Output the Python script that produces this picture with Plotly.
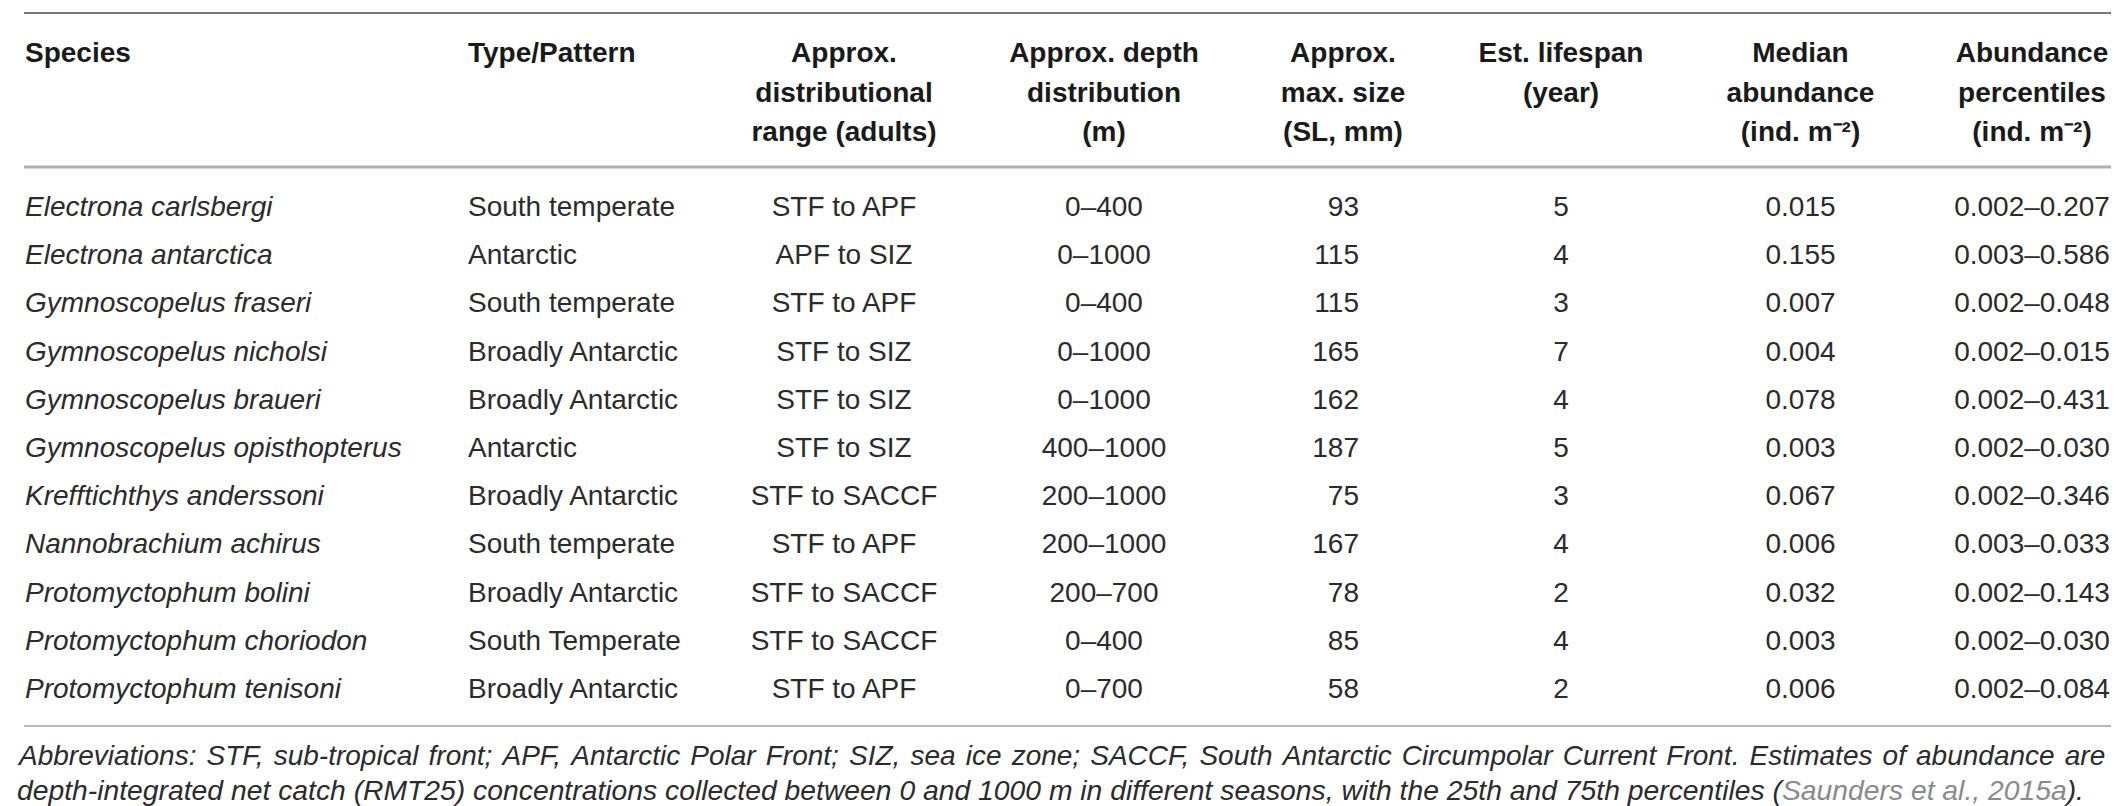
import plotly.graph_objects as go

W, H = 2119, 806

# table content
species = ["Electrona carlsbergi", "Electrona antarctica", "Gymnoscopelus fraseri",
           "Gymnoscopelus nicholsi", "Gymnoscopelus braueri", "Gymnoscopelus opisthopterus",
           "Krefftichthys anderssoni", "Nannobrachium achirus", "Protomyctophum bolini",
           "Protomyctophum choriodon", "Protomyctophum tenisoni"]
pattern = ["South temperate", "Antarctic", "South temperate", "Broadly Antarctic",
           "Broadly Antarctic", "Antarctic", "Broadly Antarctic", "South temperate",
           "Broadly Antarctic", "South Temperate", "Broadly Antarctic"]
dist_range = ["STF to APF", "APF to SIZ", "STF to APF", "STF to SIZ", "STF to SIZ",
              "STF to SIZ", "STF to SACCF", "STF to APF", "STF to SACCF", "STF to SACCF",
              "STF to APF"]
depth = ["0–400", "0–1000", "0–400", "0–1000", "0–1000", "400–1000", "200–1000",
         "200–1000", "200–700", "0–400", "0–700"]
max_size = [93, 115, 115, 165, 162, 187, 75, 167, 78, 85, 58]
lifespan = [5, 4, 3, 7, 4, 5, 3, 4, 2, 4, 2]
median_abund = ["0.015", "0.155", "0.007", "0.004", "0.078", "0.003", "0.067", "0.006",
                "0.032", "0.003", "0.006"]
pct_abund = ["0.002–0.207", "0.003–0.586", "0.002–0.048", "0.002–0.015", "0.002–0.431",
             "0.002–0.030", "0.002–0.346", "0.003–0.033", "0.002–0.143", "0.002–0.030",
             "0.002–0.084"]

# column headings, one entry per printed line
head_species = ["Species", "", ""]
head_pattern = ["Type/Pattern", "", ""]
head_range = ["Approx.", "distributional", "range (adults)"]
head_depth = ["Approx. depth", "distribution", "(m)"]
head_size = ["Approx.", "max. size", "(SL, mm)"]
head_life = ["Est. lifespan", "(year)", ""]
head_median = ["Median", "abundance", "(ind. m⁻²)"]
head_pct = ["Abundance", "percentiles", "(ind. m⁻²)"]

footnote = ["Abbreviations: STF, sub-tropical front; APF, Antarctic Polar Front; SIZ, sea ice zone; "
            "SACCF, South Antarctic Circumpolar Current Front. Estimates of abundance are",
            "depth-integrated net catch (RMT25) concentrations collected between 0 and 1000 m "
            "in different seasons, with the 25th and 75th percentiles "]
citation = "Saunders et al., 2015a"

FONT = "Liberation Sans, Arial, Helvetica, sans-serif"
FS = 28


def py(px):
    return 1 - px / H


def widths(edges):
    return [b - a for a, b in zip(edges[:-1], edges[1:])]


head_edges = [9, 452, 700, 972, 1220, 1450, 1656, 1929, 2119]
body_edges = [9, 452, 700, 972, 1220, 1359, 1450, 1656, 1929, 2119]
no_line = dict(color="white", width=0)

fig = go.Figure()

fig.add_trace(go.Table(
    domain=dict(x=[9 / W, 1], y=[py(158), py(9)]),
    columnwidth=widths(head_edges),
    header=dict(values=[], height=0, fill_color="white", line=no_line),
    cells=dict(values=[head_species, head_pattern, head_range, head_depth, head_size,
                       head_life, head_median, head_pct],
               height=39.5,
               align=["left", "left"] + ["center"] * 6,
               font=dict(family=FONT, size=FS, color="#1a1a1a", weight="bold"),
               fill_color="white", line=no_line),
))

blank = [""] * len(species)
fig.add_trace(go.Table(
    domain=dict(x=[9 / W, 1], y=[py(716), py(163)]),
    columnwidth=widths(body_edges),
    header=dict(values=[], height=0, fill_color="white", line=no_line),
    cells=dict(values=[species, pattern, dist_range, depth, max_size, blank,
                       lifespan, median_abund, pct_abund],
               height=48.2,
               align=["left", "left", "center", "center", "right", "center",
                      "center", "center", "center"],
               font=dict(family=FONT, size=FS, color="#2b2b2b",
                         style=["italic"] + ["normal"] * 8),
               fill_color="white", line=no_line),
))

# horizontal rules of the table
for y, col, w in [(5, "#777777", 2), (159, "#b0b0b0", 3), (718, "#b8b8b8", 2)]:
    fig.add_shape(type="line", xref="paper", yref="paper", x0=16 / W, x1=2112 / W,
                  y0=py(y), y1=py(y), line=dict(color=col, width=w))

# first footnote line is justified in the source, widen its word gaps a little
line1 = footnote[0].replace(" ", " \u200a")
fig.add_annotation(text="<i>" + line1 + "</i>", xref="paper", yref="paper",
                   x=7 / W, y=py(747), xanchor="left", yanchor="middle", showarrow=False,
                   font=dict(family=FONT, size=28, color="#2b2b2b"))
fig.add_annotation(text="<i>" + footnote[1] + "(<span style='color:#8a8a8a'>" + citation
                   + "</span>).</i>", xref="paper", yref="paper",
                   x=7 / W, y=py(782), xanchor="left", yanchor="middle", showarrow=False,
                   font=dict(family=FONT, size=28.3, color="#2b2b2b"))

fig.update_layout(width=W, height=H, margin=dict(l=0, r=0, t=0, b=0),
                  paper_bgcolor="white", plot_bgcolor="white")

fig.write_html("out.html")
